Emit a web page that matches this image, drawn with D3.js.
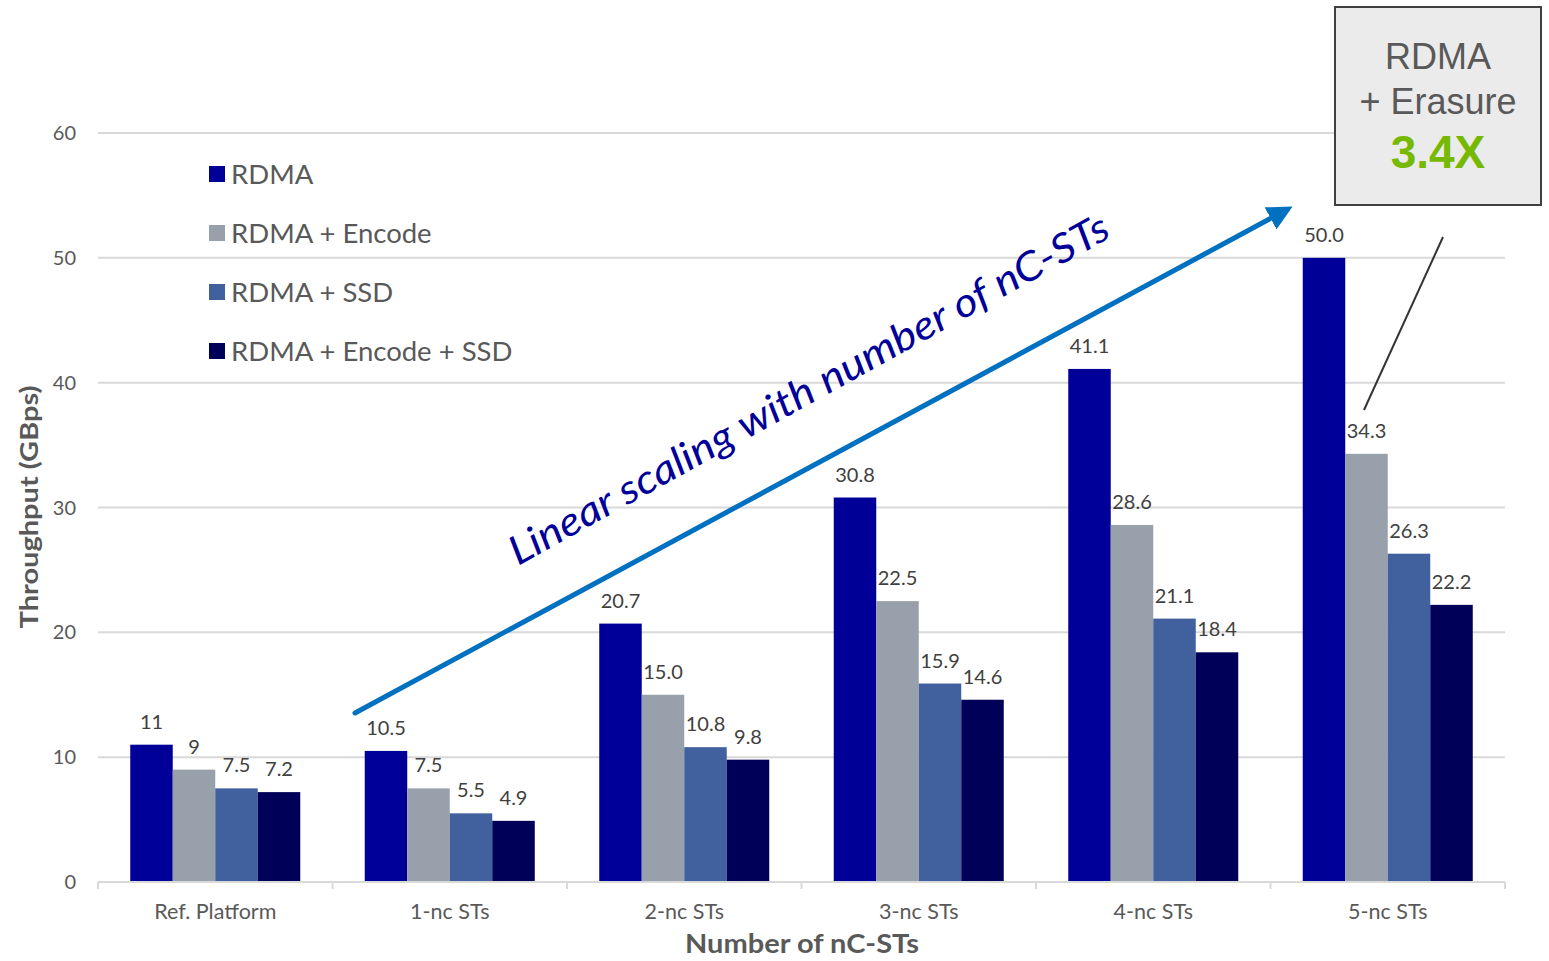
<!DOCTYPE html>
<html><head><meta charset="utf-8">
<script src="https://cdn.jsdelivr.net/npm/d3@7"></script>
<style>body{margin:0;background:#fff;} svg{display:block;}</style>
</head><body>
<svg id="chart" width="1549" height="961"></svg>
<script>
const categories = ["Ref. Platform","1-nc STs","2-nc STs","3-nc STs","4-nc STs","5-nc STs"];
const seriesNames = ["RDMA","RDMA + Encode","RDMA + SSD","RDMA + Encode + SSD"];
const rdma = [11, 10.5, 20.7, 30.8, 41.1, 50.0];
const rdmaEncode = [9, 7.5, 15.0, 22.5, 28.6, 34.3];
const rdmaSSD = [7.5, 5.5, 10.8, 15.9, 21.1, 26.3];
const rdmaEncodeSSD = [7.2, 4.9, 9.8, 14.6, 18.4, 22.2];
const labels = [
  ["11","10.5","20.7","30.8","41.1","50.0"],
  ["9","7.5","15.0","22.5","28.6","34.3"],
  ["7.5","5.5","10.8","15.9","21.1","26.3"],
  ["7.2","4.9","9.8","14.6","18.4","22.2"]
];
const yTicks = [0,10,20,30,40,50,60];
const colors = ["#000099","#97a0ab","#41619e","#000058"];
const seriesValues = [rdma, rdmaEncode, rdmaSSD, rdmaEncodeSSD];

(function(){
const svg = d3.select("#chart");
const font = "Lato, 'Open Sans', sans-serif";
const pLeft = 98, pRight = 1505, pTop = 133, pBottom = 882;

const x0 = d3.scaleBand().domain(categories).range([pLeft, pRight]).paddingInner(0.275).paddingOuter(0.1375);
const x1 = d3.scaleBand().domain(d3.range(4)).range([0, x0.bandwidth()]);
const y = d3.scaleLinear().domain([0, 60]).range([pBottom, pTop]);

svg.append("g").selectAll("line").data(yTicks.filter(d => d > 0)).join("line")
  .attr("x1", pLeft).attr("x2", pRight)
  .attr("y1", d => y(d)).attr("y2", d => y(d))
  .attr("stroke", "#d9d9d9").attr("stroke-width", 2);

svg.append("g").selectAll("text").data(yTicks).join("text")
  .attr("x", 76).attr("y", d => y(d)).attr("dy", "0.35em")
  .attr("text-anchor", "end").attr("font-family", font).attr("font-size", 20)
  .attr("fill", "#595959").text(d => d);

const groups = svg.append("g").selectAll("g").data(categories).join("g")
  .attr("transform", c => `translate(${x0(c)},0)`);
const gData = (c, i) => seriesValues.map((s, k) => ({k, v: s[i], lab: labels[k][i]}));
groups.selectAll("rect").data(gData).join("rect")
  .attr("x", d => x1(d.k)).attr("width", x1.bandwidth())
  .attr("y", d => y(d.v)).attr("height", d => y(0) - y(d.v))
  .attr("fill", d => colors[d.k]);
groups.selectAll("text").data(gData).join("text")
  .attr("x", d => x1(d.k) + x1.bandwidth() / 2).attr("y", d => y(d.v) - 16)
  .attr("text-anchor", "middle").attr("font-family", font).attr("font-size", 20)
  .attr("fill", "#404040").text(d => d.lab);

const boundaries = d3.range(categories.length + 1).map(i => pLeft + i * x0.step());
svg.append("line").attr("x1", pLeft).attr("x2", pRight).attr("y1", pBottom).attr("y2", pBottom)
  .attr("stroke", "#d9d9d9").attr("stroke-width", 2);
svg.append("g").selectAll("line").data(boundaries).join("line")
  .attr("x1", d => d).attr("x2", d => d).attr("y1", pBottom).attr("y2", pBottom + 7)
  .attr("stroke", "#d9d9d9").attr("stroke-width", 2);
svg.append("g").selectAll("text").data(categories).join("text")
  .attr("x", c => x0(c) + x0.bandwidth() / 2).attr("y", 919)
  .attr("text-anchor", "middle").attr("font-family", font).attr("font-size", 21.5)
  .attr("fill", "#595959").text(c => c);

svg.append("text").attr("x", 802).attr("y", 953).attr("text-anchor", "middle")
  .attr("font-family", font).attr("font-size", 26).attr("font-weight", "bold")
  .attr("fill", "#595959").attr("textLength", 234).attr("lengthAdjust", "spacingAndGlyphs")
  .text("Number of nC-STs");
svg.append("text").attr("transform", "translate(38,507) rotate(-90)").attr("text-anchor", "middle")
  .attr("font-family", font).attr("font-size", 25).attr("font-weight", "bold")
  .attr("fill", "#595959").attr("textLength", 243).attr("lengthAdjust", "spacingAndGlyphs")
  .text("Throughput (GBps)");

const leg = svg.append("g").selectAll("g").data(seriesNames).join("g")
  .attr("transform", (d, i) => `translate(209,${174 + i * 59})`);
leg.append("rect").attr("x", 0).attr("y", -8).attr("width", 16).attr("height", 16)
  .attr("fill", (d, i) => colors[i]);
leg.append("text").attr("x", 22).attr("y", 0).attr("dy", "0.36em")
  .attr("font-family", font).attr("font-size", 27.5).attr("fill", "#595959").text(d => d);

svg.append("defs").append("marker").attr("id", "ah").attr("viewBox", "0 0 10 10")
  .attr("refX", 2).attr("refY", 5).attr("markerWidth", 5).attr("markerHeight", 5)
  .attr("markerUnits", "strokeWidth").attr("orient", "auto")
  .append("path").attr("d", "M0,0 L10,5 L0,10 z").attr("fill", "#0070c0");
svg.append("line").attr("x1", 355).attr("y1", 713).attr("x2", 1275).attr("y2", 216)
  .attr("stroke", "#0070c0").attr("stroke-width", 5).attr("stroke-linecap", "round")
  .attr("marker-end", "url(#ah)");
svg.append("text").attr("transform", "translate(518,566) rotate(-29)")
  .attr("font-family", font).attr("font-size", 40).attr("font-style", "italic")
  .attr("fill", "#000099").attr("textLength", 680).attr("lengthAdjust", "spacingAndGlyphs")
  .text("Linear scaling with number of nC-STs");

svg.append("line").attr("x1", 1443).attr("y1", 237).attr("x2", 1364).attr("y2", 410)
  .attr("stroke", "#333333").attr("stroke-width", 2);
svg.append("rect").attr("x", 1335).attr("y", 7).attr("width", 206).attr("height", 198)
  .attr("fill", "#ebebeb").attr("stroke", "#404040").attr("stroke-width", 2);
const cf = "'Liberation Sans', Arial, sans-serif";
svg.append("text").attr("x", 1438).attr("y", 69).attr("text-anchor", "middle")
  .attr("font-family", cf).attr("font-size", 36).attr("fill", "#595959").text("RDMA");
svg.append("text").attr("x", 1438).attr("y", 114).attr("text-anchor", "middle")
  .attr("font-family", cf).attr("font-size", 36).attr("fill", "#595959").text("+ Erasure");
svg.append("text").attr("x", 1438).attr("y", 168).attr("text-anchor", "middle")
  .attr("font-family", cf).attr("font-size", 46).attr("font-weight", "bold")
  .attr("fill", "#76b900").text("3.4X");
})();
</script>
</body></html>
